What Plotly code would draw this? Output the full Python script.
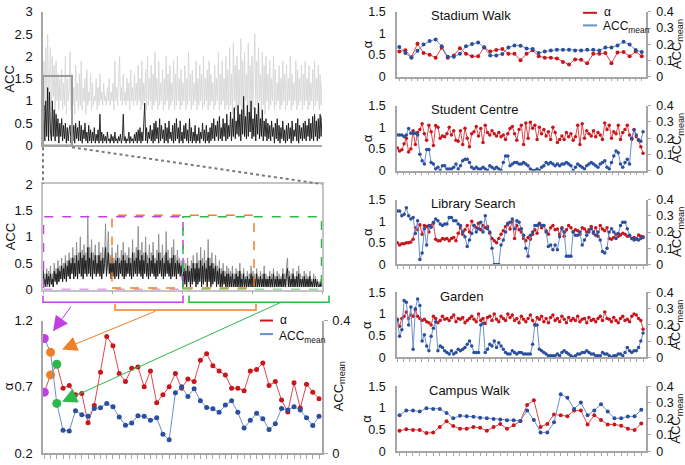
import plotly.graph_objects as go

W, H = 685, 465
def fx(p): return p / W
def fy(p): return 1 - p / H

FONT = "Liberation Sans, Arial, sans-serif"

# ---------------- data ----------------
acc_raw_full = [
    1.0, 1.9, 0.8, 2.2, 1.0, 2.5, 0.9, 1.7, 2.2, 0.8, 2.0, 1.1, 1.8, 0.7, 1.9, 1.0, 1.6, 0.8, 1.5, 1.0,
    1.7, 0.8, 1.4, 0.9, 2.0, 0.7, 1.5, 1.0, 1.2, 2.1, 0.8, 1.6, 0.9, 1.3, 0.7, 1.8, 1.0, 1.4, 0.8, 1.6,
    0.9, 1.9, 0.8, 1.3, 1.0, 1.5, 0.7, 1.7, 0.9, 1.2, 1.0, 1.6, 0.8, 1.4, 0.9, 1.1, 1.0, 1.5, 0.8, 1.3,
    0.9, 1.6, 1.0, 1.2, 0.9, 1.4, 1.0, 1.1, 0.9, 1.3, 1.0, 1.5, 0.9, 1.2, 1.0, 1.4, 0.8, 1.9, 1.0, 1.3,
    0.9, 1.5, 2.0, 1.0, 1.3, 0.9, 1.6, 1.0, 1.2, 0.9, 1.5, 1.0, 1.4, 0.8, 1.7, 1.0, 1.3, 0.9, 1.6, 1.0,
    1.4, 0.9, 1.8, 1.0, 1.5, 0.8, 1.9, 0.9, 1.4, 1.0, 1.7, 0.8, 2.0, 0.9, 1.5, 1.0, 1.8, 0.8, 1.6, 0.9,
    2.1, 1.0, 1.5, 0.8, 1.9, 0.9, 1.4, 1.0, 1.7, 0.8, 1.5, 0.9, 2.0, 1.0, 1.6, 0.8, 1.8, 0.9, 1.4, 1.0,
    1.9, 0.8, 1.6, 0.9, 2.0, 1.0, 1.5, 0.8, 1.7, 0.9, 1.4, 1.0, 1.8, 0.8, 1.5, 0.9, 2.1, 1.0, 1.6, 0.8,
    1.7, 0.9, 1.4, 1.0, 1.9, 0.8, 1.5, 0.9, 1.8, 1.0, 1.6, 0.8, 2.0, 0.9, 1.5, 1.0, 1.7, 0.8, 1.9, 0.9,
    1.6, 1.0, 1.4, 0.8, 1.8, 0.9, 1.5, 1.0, 2.1, 0.8, 1.6, 0.9, 1.9, 1.0, 1.5, 0.8, 2.0, 0.9, 1.7, 0.8,
    2.2, 0.9, 1.6, 0.7, 2.3, 1.0, 1.8, 0.8, 2.0, 0.7, 1.7, 0.9, 2.4, 0.8, 1.9, 0.7, 2.1, 1.0, 1.6, 0.8,
    2.3, 0.7, 1.8, 0.9, 2.0, 0.8, 1.7, 2.5, 0.9, 1.9, 0.7, 2.2, 1.0, 1.6, 0.8, 2.1, 0.9, 1.8, 0.7, 2.0,
    1.0, 1.6, 0.8, 1.9, 0.9, 1.5, 1.0, 2.0, 0.8, 1.7, 0.9, 1.4, 1.0, 1.8, 0.8, 1.5, 0.9, 1.9, 1.0, 1.6,
    0.8, 1.8, 0.9, 1.5, 1.0, 2.0, 0.8, 1.6, 0.9, 1.4, 1.0, 1.9, 0.8, 1.7, 0.9, 1.5, 1.0, 1.8, 0.8, 1.6,
    0.9, 1.9, 1.0, 1.5, 0.8, 1.8, 0.9, 1.4, 1.0, 1.7, 0.8, 1.9, 0.9, 1.5, 1.0, 1.8, 0.8, 1.6, 0.9, 1.4]
acc_filt_full = [
    0.3, 0.9, 0.1, 1.0, 0.2, 1.3, 0.1, 1.2, 0.3, 0.1, 1.0, 0.2, 0.8, 0.1, 0.7, 0.2, 0.6, 0.05, 0.5, 0.2,
    0.6, 0.1, 0.45, 0.15, 0.5, 0.05, 0.4, 0.1, 0.35, 0.45, 0.05, 0.3, 0.1, 0.45, 0.05, 0.5, 0.15, 0.4, 0.1, 0.55,
    0.1, 0.45, 0.05, 0.35, 0.15, 0.5, 0.1, 0.3, 0.05, 0.45, 0.1, 0.35, 0.05, 0.3, 0.1, 0.4, 0.05, 0.25, 0.1, 0.35,
    0.05, 0.7, 0.1, 0.3, 0.05, 0.25, 0.1, 0.2, 0.05, 0.3, 0.1, 0.15, 0.05, 0.25, 0.1, 0.2, 0.05, 0.3, 0.1, 0.15,
    0.05, 0.2, 0.1, 0.25, 0.05, 0.15, 0.7, 0.1, 0.2, 0.05, 0.15, 0.1, 0.3, 0.05, 0.2, 0.1, 0.15, 0.05, 0.25, 0.1,
    0.3, 0.05, 0.35, 0.1, 0.4, 0.05, 0.3, 0.1, 0.5, 0.95, 0.1, 0.4, 0.05, 0.3, 0.15, 0.45, 0.1, 0.35, 0.05, 0.5,
    0.1, 0.55, 0.15, 0.4, 0.05, 0.6, 0.1, 0.45, 0.15, 0.35, 0.05, 0.5, 0.1, 0.4, 0.05, 0.55, 0.15, 0.3, 0.1, 0.45,
    0.05, 0.5, 0.1, 0.6, 0.15, 0.4, 0.05, 0.55, 0.1, 0.3, 0.05, 0.45, 0.15, 0.5, 0.1, 0.35, 0.05, 0.6, 0.1, 0.4,
    0.05, 0.3, 0.1, 0.45, 0.05, 0.25, 0.1, 0.4, 0.05, 0.3, 0.15, 0.5, 0.1, 0.35, 0.05, 0.45, 0.1, 0.3, 0.05, 0.4,
    0.1, 0.5, 0.15, 0.6, 0.1, 0.45, 0.2, 0.55, 0.1, 0.65, 0.15, 0.4, 0.1, 0.6, 0.2, 0.5, 0.1, 0.7, 0.15, 0.45,
    0.2, 0.75, 0.1, 0.6, 0.2, 0.85, 0.15, 0.55, 0.25, 0.9, 0.2, 0.7, 0.1, 0.8, 0.25, 1.1, 0.2, 0.65, 0.15, 0.9,
    0.2, 0.75, 0.3, 1.0, 0.15, 0.6, 0.2, 0.85, 0.1, 0.7, 0.25, 0.95, 0.15, 0.6, 0.2, 0.8, 0.1, 0.55, 0.2, 0.6,
    0.1, 0.5, 0.15, 0.45, 0.1, 0.55, 0.2, 0.4, 0.05, 0.5, 0.15, 0.6, 0.1, 0.45, 0.05, 0.4, 0.15, 0.55, 0.1, 0.35,
    0.05, 0.45, 0.1, 0.5, 0.15, 0.4, 0.05, 0.55, 0.1, 0.35, 0.2, 0.5, 0.1, 0.6, 0.05, 0.45, 0.15, 0.4, 0.1, 0.5,
    0.15, 0.55, 0.1, 0.45, 0.2, 0.6, 0.1, 0.5, 0.15, 0.65, 0.1, 0.7, 0.2, 0.55, 0.1, 0.6, 0.15, 0.7, 0.2, 0.65]

acc_raw_zoom = [
    0.5, 0.05, 0.3, 0.1, 0.4, 0.05, 0.35, 0.15, 0.45, 0.1, 0.3, 0.05, 0.5, 0.2, 0.4, 0.1, 0.55, 0.15, 0.45, 0.2,
    0.6, 0.15, 0.5, 0.25, 0.65, 0.2, 0.55, 0.3, 0.7, 0.2, 0.6, 0.35, 0.8, 0.25, 0.65, 0.3, 0.9, 0.2, 0.7, 0.35,
    1.0, 0.3, 0.75, 0.25, 0.85, 0.4, 0.7, 0.3, 1.4, 0.35, 0.8, 0.3, 0.95, 0.25, 0.7, 0.4, 0.85, 0.3, 0.65, 0.35,
    0.9, 0.3, 0.7, 0.25, 0.8, 0.35, 0.6, 1.25, 0.3, 0.75, 1.1, 0.35, 0.65, 0.25, 0.8, 0.3, 0.6, 0.25, 0.7, 0.3,
    0.85, 0.25, 0.6, 0.35, 0.75, 0.3, 0.9, 0.25, 0.7, 0.3, 0.65, 0.35, 0.8, 0.3, 0.6, 0.25, 0.95, 0.3, 0.7, 0.35,
    0.8, 0.3, 1.2, 0.35, 0.75, 0.3, 0.9, 0.25, 0.7, 0.35, 1.0, 0.3, 0.65, 0.25, 0.85, 0.3, 0.7, 0.35, 0.9, 0.3,
    0.6, 0.25, 0.75, 0.3, 1.05, 0.35, 0.7, 0.3, 0.85, 0.25, 0.65, 0.3, 1.1, 0.35, 0.75, 0.3, 0.6, 0.25, 0.8, 0.3,
    0.95, 0.3, 0.65, 0.25, 0.75, 0.35, 0.6, 0.3, 0.55, 0.3, 0.1, 0.55, 0.15, 0.5, 0.1, 0.6, 0.2, 0.45, 0.1, 0.55,
    0.15, 0.65, 0.2, 0.5, 0.1, 0.7, 0.15, 0.55, 0.2, 0.8, 0.1, 0.6, 0.15, 0.75, 0.2, 0.55, 0.1, 0.95, 0.2, 0.6,
    0.1, 0.7, 0.15, 0.5, 0.2, 0.65, 0.1, 0.45, 0.15, 0.55, 0.05, 0.4, 0.1, 0.5, 0.15, 0.35, 0.05, 0.45, 0.1, 0.4,
    0.05, 0.35, 0.1, 0.45, 0.05, 0.3, 0.1, 0.4, 0.05, 0.35, 0.1, 0.5, 0.05, 0.3, 0.1, 0.4, 0.05, 0.25, 0.1, 0.35,
    0.05, 0.3, 0.1, 0.45, 0.05, 0.35, 0.1, 0.3, 0.05, 0.4, 0.1, 0.25, 0.05, 0.35, 0.1, 0.3, 0.05, 0.45, 0.1, 0.3,
    0.05, 0.25, 0.1, 0.35, 0.05, 0.3, 0.1, 0.4, 0.05, 0.25, 0.1, 0.35, 0.05, 0.3, 0.1, 0.25, 0.05, 0.4, 0.1, 0.3,
    0.05, 0.45, 0.6, 0.1, 0.35, 0.05, 0.3, 0.1, 0.4, 0.05, 0.25, 0.1, 0.35, 0.05, 0.45, 0.1, 0.3, 0.05, 0.25, 0.1,
    0.35, 0.05, 0.3, 0.1, 0.25, 0.05, 0.35, 0.1, 0.2, 0.05, 0.3, 0.1, 0.25, 0.05, 0.2, 0.1, 0.15, 0.05, 0.2, 0.1]
acc_filt_zoom = [
    0.4, 0.1, 0.2, 0.05, 0.3, 0.1, 0.25, 0.05, 0.3, 0.1, 0.2, 0.05, 0.35, 0.15, 0.3, 0.1, 0.4, 0.15, 0.35, 0.2,
    0.45, 0.15, 0.4, 0.2, 0.5, 0.15, 0.45, 0.25, 0.55, 0.2, 0.5, 0.3, 0.6, 0.2, 0.5, 0.25, 0.65, 0.2, 0.55, 0.3,
    0.7, 0.25, 0.6, 0.2, 0.65, 0.3, 0.55, 0.25, 0.8, 0.3, 0.6, 0.25, 0.7, 0.2, 0.55, 0.3, 0.65, 0.25, 0.5, 0.3,
    0.65, 0.25, 0.55, 0.2, 0.6, 0.3, 0.5, 0.8, 0.25, 0.6, 0.7, 0.3, 0.5, 0.2, 0.6, 0.25, 0.5, 0.2, 0.55, 0.25,
    0.6, 0.2, 0.5, 0.3, 0.55, 0.25, 0.65, 0.2, 0.55, 0.25, 0.5, 0.3, 0.6, 0.25, 0.5, 0.2, 0.7, 0.25, 0.55, 0.3,
    0.6, 0.25, 0.75, 0.3, 0.55, 0.25, 0.65, 0.2, 0.55, 0.3, 0.7, 0.25, 0.5, 0.2, 0.6, 0.25, 0.55, 0.3, 0.65, 0.25,
    0.5, 0.2, 0.55, 0.25, 0.7, 0.3, 0.55, 0.25, 0.6, 0.2, 0.5, 0.25, 0.7, 0.3, 0.55, 0.25, 0.5, 0.2, 0.6, 0.25,
    0.65, 0.25, 0.5, 0.2, 0.55, 0.3, 0.5, 0.25, 0.45, 0.25, 0.05, 0.4, 0.1, 0.35, 0.05, 0.45, 0.15, 0.35, 0.05, 0.4,
    0.1, 0.5, 0.15, 0.4, 0.05, 0.5, 0.1, 0.4, 0.15, 0.55, 0.05, 0.45, 0.1, 0.5, 0.15, 0.4, 0.05, 0.6, 0.15, 0.45,
    0.05, 0.5, 0.1, 0.4, 0.15, 0.45, 0.05, 0.35, 0.1, 0.4, 0.05, 0.3, 0.05, 0.35, 0.1, 0.25, 0.05, 0.3, 0.05, 0.3,
    0.05, 0.25, 0.05, 0.3, 0.05, 0.2, 0.05, 0.3, 0.05, 0.25, 0.05, 0.35, 0.05, 0.2, 0.05, 0.3, 0.05, 0.2, 0.05, 0.25,
    0.05, 0.2, 0.05, 0.3, 0.05, 0.25, 0.05, 0.2, 0.05, 0.3, 0.05, 0.2, 0.05, 0.25, 0.05, 0.2, 0.05, 0.3, 0.05, 0.2,
    0.05, 0.2, 0.05, 0.25, 0.05, 0.2, 0.05, 0.3, 0.05, 0.2, 0.05, 0.25, 0.05, 0.2, 0.05, 0.2, 0.05, 0.3, 0.05, 0.2,
    0.05, 0.3, 0.4, 0.05, 0.25, 0.05, 0.2, 0.05, 0.3, 0.05, 0.2, 0.05, 0.25, 0.05, 0.3, 0.05, 0.2, 0.05, 0.2, 0.05,
    0.25, 0.05, 0.2, 0.05, 0.2, 0.05, 0.25, 0.05, 0.15, 0.05, 0.2, 0.05, 0.2, 0.05, 0.15, 0.05, 0.1, 0.05, 0.15, 0.05]

win_alpha = [0.66, 0.79, 0.87, 0.69, 0.71, 0.64, 0.65, 0.43, 0.56, 0.81, 1.08, 1.01, 0.80, 0.74, 0.84, 0.85, 0.70, 0.82,
             0.58, 0.64, 0.70, 0.80, 0.69, 0.76, 0.74, 0.90, 0.95, 0.86, 0.82, 0.79, 0.69, 0.69, 0.67, 0.82, 0.83, 0.88,
             0.71, 0.74, 0.60, 0.51, 0.73, 0.54, 0.72, 0.66, 0.61]
win_accmean = [0.346, 0.304, 0.150, 0.069, 0.067, 0.128, 0.116, 0.111, 0.135, 0.137, 0.150, 0.140, 0.109, 0.084, 0.091,
               0.113, 0.111, 0.099, 0.107, 0.057, 0.040, 0.182, 0.200, 0.171, 0.194, 0.158, 0.138, 0.134, 0.123, 0.145,
               0.158, 0.123, 0.076, 0.099, 0.120, 0.104, 0.071, 0.089, 0.135, 0.130, 0.140, 0.130, 0.107, 0.083, 0.111]
window_colors = ["#c43ee6", "#f07f2a", "#2db84a"]

stadium_alpha = [0.58, 0.61, 0.45, 0.76, 0.55, 0.51, 0.44, 0.67, 0.44, 0.49, 0.66, 0.53, 0.47, 0.47, 0.68, 0.58, 0.62,
                 0.64, 0.53, 0.53, 0.38, 0.53, 0.61, 0.47, 0.44, 0.44, 0.42, 0.34, 0.28, 0.40, 0.39, 0.31, 0.53, 0.53,
                 0.55, 0.31, 0.56, 0.57, 0.47, 0.58, 0.47]
stadium_acc = [0.183, 0.146, 0.117, 0.160, 0.199, 0.220, 0.230, 0.187, 0.123, 0.123, 0.142, 0.187, 0.201, 0.211, 0.180,
               0.131, 0.131, 0.140, 0.180, 0.193, 0.191, 0.174, 0.170, 0.146, 0.156, 0.162, 0.166, 0.166, 0.166, 0.162,
               0.162, 0.166, 0.166, 0.162, 0.180, 0.180, 0.193, 0.215, 0.199, 0.164, 0.152]

student_alpha = [0.52, 0.45, 0.48, 0.62, 0.75, 0.43, 0.50, 0.92, 0.60, 0.88,
                 0.95, 1.08, 0.85, 0.70, 1.05, 0.90, 0.58, 1.04, 1.00, 0.75,
                 0.80, 0.78, 0.85, 1.00, 0.82, 0.92, 0.70, 0.68, 0.92, 0.60,
                 0.98, 0.75, 0.55, 0.85, 0.90, 1.02, 0.80, 0.97, 0.65, 1.05,
                 0.88, 0.82, 0.92, 0.85, 0.80, 0.88, 0.78, 0.82, 0.72, 0.85,
                 0.97, 1.02, 0.85, 0.70, 0.95, 1.05, 0.60, 1.10, 0.75, 1.12,
                 0.98, 1.05, 0.72, 1.00, 0.85, 0.95, 0.80, 0.90, 0.72, 1.00,
                 0.88, 0.65, 0.72, 0.80, 0.72, 0.88, 0.78, 0.85, 0.70, 0.78,
                 1.05, 0.60, 1.08, 0.75, 0.92, 0.85, 0.80, 0.92, 0.78, 0.88,
                 0.82, 0.72, 1.10, 0.95, 1.05, 0.75, 0.90, 0.85, 1.05, 0.72,
                 0.88, 0.95, 1.05, 0.82, 0.72, 0.95, 0.78, 0.70, 0.55, 0.40]
student_acc = [0.22, 0.22, 0.22, 0.21, 0.22, 0.26, 0.23, 0.23, 0.23, 0.22,
               0.10, 0.06, 0.04, 0.13, 0.13, 0.05, 0.04, 0.01, 0.02, 0.00,
               0.03, 0.03, 0.01, 0.01, 0.01, 0.02, 0.04, 0.01, 0.03, 0.06,
               0.07, 0.07, 0.05, 0.02, 0.01, 0.02, 0.01, 0.01, 0.02, 0.01,
               0.00, 0.03, 0.02, 0.01, 0.02, 0.01, 0.00, 0.05, 0.09, 0.09,
               0.03, 0.04, 0.05, 0.05, 0.04, 0.04, 0.05, 0.04, 0.03, 0.01,
               0.00, 0.00, 0.01, 0.00, 0.02, 0.03, 0.05, 0.04, 0.05, 0.04,
               0.03, 0.04, 0.03, 0.04, 0.04, 0.05, 0.04, 0.03, 0.00, 0.02,
               0.04, 0.03, 0.02, 0.01, 0.03, 0.04, 0.05, 0.04, 0.03, 0.02,
               0.04, 0.05, 0.06, 0.02, 0.01, 0.05, 0.09, 0.12, 0.11, 0.04,
               0.02, 0.05, 0.07, 0.04, 0.20, 0.25, 0.22, 0.19, 0.18, 0.24]

library_alpha = [0.50, 0.45, 0.48, 0.48, 0.50, 0.50, 0.52, 0.58, 0.85, 0.80,
                 0.92, 0.70, 0.90, 0.88, 0.75, 0.90, 0.95, 0.58, 0.55, 0.55,
                 0.60, 0.58, 0.60, 0.55, 0.60, 0.62, 0.55, 0.72, 0.85, 0.70,
                 0.80, 0.90, 0.75, 1.00, 0.90, 0.85, 0.95, 0.80, 0.90, 0.85,
                 0.88, 0.72, 0.60, 0.55, 0.50, 0.60, 0.70, 0.78, 0.88, 0.95,
                 0.82, 1.00, 0.60, 0.90, 0.80, 0.75, 0.60, 0.55, 0.62, 0.58,
                 0.70, 0.80, 0.72, 0.95, 0.85, 0.90, 0.78, 0.70, 0.85, 0.90,
                 0.80, 0.82, 0.70, 0.85, 0.65, 0.80, 0.90, 0.85, 0.75, 0.80,
                 0.78, 0.70, 0.85, 0.82, 0.75, 0.80, 0.88, 0.72, 0.85, 0.65,
                 0.90, 0.82, 0.78, 0.85, 0.60, 0.58, 0.62, 0.70, 0.65, 0.68,
                 0.72, 0.70, 0.65, 0.66, 0.60, 0.62, 0.58, 0.68, 0.65, 0.62]
library_acc = [0.33, 0.33, 0.30, 0.31, 0.35, 0.30, 0.28, 0.29, 0.19, 0.27,
               0.03, 0.07, 0.22, 0.12, 0.24, 0.23, 0.26, 0.28, 0.27, 0.25,
               0.24, 0.25, 0.25, 0.29, 0.29, 0.27, 0.27, 0.25, 0.24, 0.20,
               0.17, 0.11, 0.15, 0.19, 0.24, 0.20, 0.22, 0.26, 0.20, 0.30,
               0.22, 0.20, 0.10, 0.00, 0.00, 0.00, 0.12, 0.15, 0.20, 0.25,
               0.26, 0.28, 0.22, 0.27, 0.26, 0.22, 0.18, 0.10, 0.05, 0.18,
               0.20, 0.24, 0.24, 0.25, 0.24, 0.24, 0.20, 0.11, 0.12, 0.09,
               0.12, 0.09, 0.17, 0.22, 0.20, 0.05, 0.05, 0.05, 0.20, 0.18,
               0.18, 0.20, 0.12, 0.15, 0.18, 0.20, 0.22, 0.20, 0.18, 0.20,
               0.15, 0.08, 0.07, 0.10, 0.20, 0.22, 0.20, 0.16, 0.19, 0.24,
               0.26, 0.26, 0.22, 0.18, 0.16, 0.15, 0.16, 0.15, 0.16, 0.17]

garden_alpha = [0.88, 0.72, 0.90, 0.95, 1.05, 0.90, 0.98, 0.95, 1.10, 0.95,
                0.90, 0.85, 0.88, 0.82, 0.80, 0.75, 0.95, 0.90, 0.80, 0.85,
                0.95, 0.88, 0.90, 0.85, 0.92, 0.98, 0.82, 0.90, 0.88, 0.92,
                0.80, 0.85, 0.90, 0.95, 0.88, 0.82, 1.00, 0.85, 0.90, 0.78,
                0.92, 0.95, 0.85, 1.00, 0.88, 0.82, 0.95, 0.90, 0.85, 1.00,
                0.92, 0.98, 0.85, 0.90, 0.80, 0.95, 0.88, 0.82, 0.90, 0.98,
                0.85, 0.75, 0.92, 0.88, 0.95, 0.82, 0.90, 0.80, 0.92, 0.98,
                0.85, 0.90, 0.82, 0.95, 0.88, 0.80, 0.92, 0.85, 0.90, 0.85,
                0.95, 0.82, 0.88, 0.90, 0.80, 0.92, 0.85, 0.88, 0.82, 0.90,
                0.95, 0.85, 1.05, 0.90, 0.88, 0.82, 0.92, 0.85, 0.80, 0.90,
                0.95, 0.85, 0.88, 0.82, 0.95, 1.00, 0.98, 0.90, 0.85, 0.65]
garden_acc = [0.23, 0.13, 0.17, 0.35, 0.34, 0.20, 0.31, 0.05, 0.30, 0.36,
              0.32, 0.10, 0.14, 0.07, 0.04, 0.13, 0.18, 0.22, 0.04, 0.07,
              0.06, 0.04, 0.03, 0.02, 0.04, 0.02, 0.03, 0.05, 0.04, 0.05,
              0.06, 0.08, 0.10, 0.07, 0.03, 0.03, 0.03, 0.20, 0.21, 0.03,
              0.05, 0.08, 0.07, 0.10, 0.06, 0.09, 0.07, 0.05, 0.03, 0.02,
              0.02, 0.04, 0.03, 0.02, 0.03, 0.03, 0.02, 0.02, 0.02, 0.02,
              0.08, 0.20, 0.20, 0.05, 0.04, 0.03, 0.02, 0.01, 0.01, 0.01,
              0.01, 0.02, 0.01, 0.03, 0.04, 0.03, 0.02, 0.01, 0.00, 0.01,
              0.02, 0.02, 0.03, 0.03, 0.04, 0.03, 0.02, 0.02, 0.01, 0.01,
              0.01, 0.03, 0.02, 0.02, 0.01, 0.00, 0.01, 0.01, 0.02, 0.02,
              0.01, 0.03, 0.06, 0.04, 0.03, 0.04, 0.04, 0.06, 0.10, 0.15]

campus_alpha = [0.47, 0.51, 0.49, 0.49, 0.42, 0.43, 0.56, 0.69, 0.58, 0.52, 0.52, 0.56, 0.54, 0.47, 0.56, 0.63, 0.52,
                0.60, 0.70, 1.07, 1.18, 0.56, 0.63, 0.85, 0.83, 0.81, 0.94, 0.94, 0.62, 0.83, 0.72, 0.62, 0.62, 0.59,
                0.52, 0.49, 0.64]
campus_acc = [0.222, 0.251, 0.251, 0.245, 0.265, 0.261, 0.261, 0.236, 0.203, 0.218, 0.216, 0.213, 0.207, 0.203, 0.199,
              0.195, 0.191, 0.191, 0.187, 0.251, 0.193, 0.116, 0.116, 0.178, 0.352, 0.329, 0.261, 0.300, 0.222, 0.251,
              0.290, 0.245, 0.203, 0.203, 0.214, 0.216, 0.255]

route_titles = ["Stadium Walk", "Student Centre", "Library Search", "Garden", "Campus Walk"]
route_alpha = [stadium_alpha, student_alpha, library_alpha, garden_alpha, campus_alpha]
route_acc = [stadium_acc, student_acc, library_acc, garden_acc, campus_acc]

alpha_ticks_left = [0.2, 0.7, 1.2]
route_alpha_ticks = [0, 0.5, 1, 1.5]
route_acc_ticks = [0, 0.1, 0.2, 0.3, 0.4]

# ---------------- styles ----------------
RED_M, RED_L = "#c8161d", "#e0474c"
BLUE_M, BLUE_L = "#2b4f9e", "#6a90cc"
AX = "#a6a6a6"

fig = go.Figure()
layout = dict(width=W, height=H, margin=dict(l=0, r=0, t=0, b=0), paper_bgcolor="white",
              plot_bgcolor="white", showlegend=False, font=dict(family=FONT, color="#111"))
shapes, annos = [], []

def text(t, x, y, size=13, angle=0, xanchor="center"):
    annos.append(dict(text=t, x=fx(x), y=fy(y), xref="paper", yref="paper", showarrow=False,
                      xanchor=xanchor, yanchor="middle", textangle=angle,
                      font=dict(size=size, family=FONT, color="#111")))

def yax(**kw):
    d = dict(showgrid=False, zeroline=False, showline=True, linecolor=AX, linewidth=1.5,
             tickfont=dict(size=13, family=FONT, color="#111"), ticks="", ticklabelstandoff=6)
    d.update(kw)
    return d

def xax(**kw):
    d = dict(showgrid=False, zeroline=False, showline=True, linecolor=AX, linewidth=1.5,
             showticklabels=False, ticks="")
    d.update(kw)
    return d

# ---------------- Panel A ----------------
xa = list(range(len(acc_raw_full)))
na = len(xa) - 1
fig.add_trace(go.Scatter(x=xa, y=acc_raw_full, mode="lines", line=dict(color="#d6d6d6", width=0.9),
                         xaxis="x", yaxis="y", hoverinfo="skip"))
fig.add_trace(go.Scatter(x=xa, y=acc_filt_full, mode="lines", line=dict(color="#151515", width=0.9),
                         xaxis="x", yaxis="y", hoverinfo="skip"))
layout["xaxis"] = xax(domain=[fx(43), fx(322)], range=[0, na], anchor="y")
layout["yaxis"] = yax(domain=[fy(143), fy(5)], range=[0, 3], tickvals=[0, 0.5, 1, 1.5, 2, 2.5, 3],
                      ticktext=["0", "0.5", "1", "1.5", "2", "2.5", "3"], anchor="x")
box_x1 = na * (72 - 43) / (322 - 43)
shapes.append(dict(type="rect", xref="x", yref="y", x0=0, x1=box_x1, y0=0, y1=1.56,
                   line=dict(color="#9a9a9a", width=2)))
text("ACC", 10, 75, angle=-90)

# dotted connectors
shapes.append(dict(type="line", xref="paper", yref="paper", x0=fx(43), y0=fy(145), x1=fx(43), y1=fy(183),
                   line=dict(color="#7a7a7a", width=2, dash="dot")))
shapes.append(dict(type="line", xref="paper", yref="paper", x0=fx(72), y0=fy(145), x1=fx(322), y1=fy(183),
                   line=dict(color="#7a7a7a", width=2, dash="dot")))

# ---------------- Panel B ----------------
xb = list(range(len(acc_raw_zoom)))
nb = len(xb) - 1
fig.add_trace(go.Scatter(x=xb, y=acc_raw_zoom, mode="lines", line=dict(color="#8c8c8c", width=0.9),
                         xaxis="x2", yaxis="y2", hoverinfo="skip"))
fig.add_trace(go.Scatter(x=xb, y=acc_filt_zoom, mode="lines", line=dict(color="#151515", width=0.9),
                         xaxis="x2", yaxis="y2", hoverinfo="skip"))
layout["xaxis2"] = xax(domain=[fx(43), fx(322)], range=[0, nb], anchor="y2", mirror=True, linecolor="#c4c4c4",
                       ticks="outside", ticklen=3, tickcolor=AX, tickvals=[0, nb / 4, nb / 2, 3 * nb / 4, nb])
layout["yaxis2"] = yax(domain=[fy(292), fy(183)], range=[0, 2], tickvals=[0, 0.5, 1, 1.5, 2],
                       ticktext=["0", "0.5", "1", "1.5", "2"], anchor="x2", mirror=True, linecolor="#c4c4c4")
text("ACC", 10, 238, angle=-90)
def bx(p): return nb * (p - 43) / (322 - 43)
shapes.append(dict(type="rect", xref="x2", yref="y2", x0=bx(43.5), x1=bx(183), y0=0, y1=1.38,
                   line=dict(color=window_colors[0], width=1.5, dash="dash")))
shapes.append(dict(type="rect", xref="x2", yref="y2", x0=bx(112), x1=bx(254), y0=0.03, y1=1.41,
                   line=dict(color=window_colors[1], width=1.5, dash="dash")))
shapes.append(dict(type="rect", xref="x2", yref="y2", x0=bx(183), x1=bx(321.5), y0=0, y1=1.38,
                   line=dict(color=window_colors[2], width=1.5, dash="dash")))

# brackets
def bracket(x0, x1, ytop, ybot, color):
    path = f"M {fx(x0)},{fy(ytop)} L {fx(x0)},{fy(ybot)} L {fx(x1)},{fy(ybot)} L {fx(x1)},{fy(ytop)}"
    shapes.append(dict(type="path", xref="paper", yref="paper", path=path, line=dict(color=color, width=1.5)))
bracket(43, 183, 298, 305, window_colors[0])
bracket(189, 329, 298, 305, window_colors[2])
bracket(115, 256, 307, 313, window_colors[1])

# ---------------- Panel C ----------------
xc = list(range(1, len(win_alpha) + 1))
fig.add_trace(go.Scatter(x=xc, y=win_alpha, mode="lines+markers", line=dict(color=RED_L, width=1),
                         marker=dict(color=RED_M, size=5), xaxis="x3", yaxis="y3", hoverinfo="skip"))
fig.add_trace(go.Scatter(x=xc, y=win_accmean, mode="lines+markers", line=dict(color=BLUE_L, width=1),
                         marker=dict(color=BLUE_M, size=5), xaxis="x3", yaxis="y4", hoverinfo="skip"))
fig.add_trace(go.Scatter(x=xc[:3], y=win_alpha[:3], mode="markers",
                         marker=dict(color=window_colors, size=9), xaxis="x3", yaxis="y3", hoverinfo="skip"))
fig.add_trace(go.Scatter(x=xc[:3], y=win_accmean[:3], mode="markers",
                         marker=dict(color=window_colors, size=9), xaxis="x3", yaxis="y4", hoverinfo="skip"))
layout["xaxis3"] = xax(domain=[fx(43), fx(322)], range=[0.79, len(xc) + 0.48], anchor="y3",
                       ticks="outside", ticklen=4, tickcolor=AX, tickvals=xc)
layout["yaxis3"] = yax(domain=[fy(461), fy(324)], range=[0.2, 1.2], tickvals=alpha_ticks_left,
                       ticktext=["0.2", "0.7", "1.2"], anchor="x3")
layout["yaxis4"] = yax(overlaying="y3", side="right", anchor="x3", range=[0, 0.4], tickvals=[0, 0.4],
                       ticktext=["0", "0.4"], ticks="outside", ticklen=4, tickcolor=AX, ticklabelstandoff=2)
text("α", 8, 392, angle=-90)
text("ACC<sub>mean</sub>", 339, 392, angle=-90)
# legend for panel C
shapes.append(dict(type="line", xref="paper", yref="paper", x0=fx(260), x1=fx(273), y0=fy(324), y1=fy(324),
                   line=dict(color=RED_M, width=2)))
shapes.append(dict(type="line", xref="paper", yref="paper", x0=fx(260), x1=fx(273), y0=fy(338), y1=fy(338),
                   line=dict(color=BLUE_L, width=2)))
text("α", 278, 323, size=12, xanchor="left")
text("ACC<sub>mean</sub>", 277, 341, size=12, xanchor="left")
# arrows from brackets to windows
for (tipx, tipy, tailx, taily, col) in [(53, 335, 72, 309, window_colors[0]),
                                       (62, 354, 157, 315, window_colors[1]),
                                       (62, 408, 282, 308, window_colors[2])]:
    annos.append(dict(text="", x=fx(tipx), y=fy(tipy), xref="paper", yref="paper", showarrow=True,
                      ax=tailx - tipx, ay=taily - tipy, arrowhead=2, arrowsize=3, arrowwidth=1,
                      arrowcolor=col))

# ---------------- Right panels ----------------
tops = [5, 102, 199, 295, 392]
title_x = [429, 429, 429, 438, 427]
ph = 67
for k in range(5):
    xi = 4 + k
    yl = 5 + 2 * k
    yr = yl + 1
    al, ac = route_alpha[k], route_acc[k]
    n = len(al)
    xs = list(range(n))
    dense = n > 60
    ms = 3.5 if dense else 4
    fig.add_trace(go.Scatter(x=xs, y=al, mode="lines+markers", line=dict(color=RED_L, width=1),
                             marker=dict(color=RED_M, size=ms), xaxis=f"x{xi}", yaxis=f"y{yl}", hoverinfo="skip"))
    fig.add_trace(go.Scatter(x=xs, y=ac, mode="lines+markers", line=dict(color=BLUE_L, width=1),
                             marker=dict(color=BLUE_M, size=ms), xaxis=f"x{xi}", yaxis=f"y{yr}", hoverinfo="skip"))
    if dense:
        rng = [-0.15, n - 1 + 1.3]
        tv = [i * (n - 1) / 40 for i in range(41)]
    else:
        rng = [-0.38, n - 1 + 0.7]
        tv = xs
    layout[f"xaxis{xi}"] = xax(domain=[fx(397), fx(646)], range=rng, anchor=f"y{yl}", ticks="outside",
                               ticklen=3, tickcolor=AX, tickvals=tv)
    layout[f"yaxis{yl}"] = yax(domain=[fy(tops[k] + ph), fy(tops[k])], range=[0, 1.5], tickvals=route_alpha_ticks,
                               ticktext=["0", "0.5", "1", "1.5"], anchor=f"x{xi}", ticklabelstandoff=7,
                               tickfont=dict(size=12.5, family=FONT, color="#111"))
    layout[f"yaxis{yr}"] = yax(overlaying=f"y{yl}", side="right", anchor=f"x{xi}", range=[0, 0.4],
                               tickvals=route_acc_ticks, ticktext=["0", "0.1", "0.2", "0.3", "0.4"],
                               ticks="outside", ticklen=3, tickcolor=AX, ticklabelstandoff=3,
                               tickfont=dict(size=12.5, family=FONT, color="#111"))
    text(route_titles[k], title_x[k], tops[k] + 4, size=13, xanchor="left")
    text("α", 367, tops[k] + ph / 2, angle=-90)
    text("ACC<sub>mean</sub>", 677, tops[k] + ph / 2, angle=-90)

# legend in first right panel
shapes.append(dict(type="line", xref="paper", yref="paper", x0=fx(583), x1=fx(597), y0=fy(6), y1=fy(6),
                   line=dict(color=RED_M, width=2)))
shapes.append(dict(type="line", xref="paper", yref="paper", x0=fx(583), x1=fx(597), y0=fy(19), y1=fy(19),
                   line=dict(color=BLUE_L, width=2)))
text("α", 602, 5, size=12, xanchor="left")
text("ACC<sub>mean</sub>", 601, 21, size=12, xanchor="left")

layout["shapes"] = shapes
layout["annotations"] = annos
fig.update_layout(**layout)
fig.write_html("out.html", config={"displayModeBar": False},
               post_script="document.body.style.margin='0';document.body.style.padding='0';")
